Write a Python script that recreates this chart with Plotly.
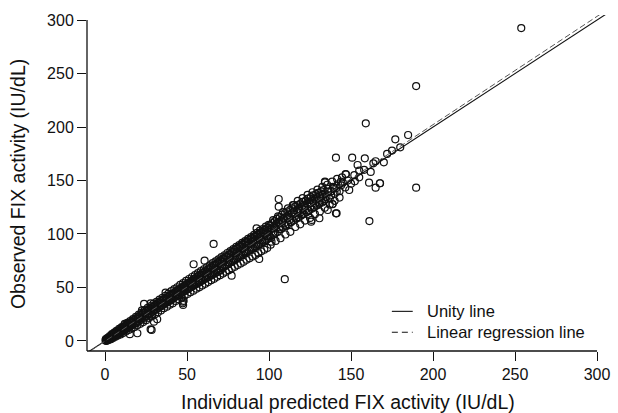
import plotly.graph_objects as go

# ---- data ----
pred_core = [
    0.3, 0.6, 0.9, 1.2, 1.5, 1.8, 2.1, 2.4, 2.7, 3.0,
    3.4, 3.7, 4.1, 4.4, 4.8, 5.1, 5.5, 5.8, 6.2, 6.5,
    6.9, 7.3, 7.6, 8.0, 8.4, 8.8, 9.2, 9.6, 10.0, 10.4,
    10.8, 11.2, 11.6, 12.0, 12.5, 12.9, 13.4, 13.8, 14.3, 14.7,
    15.2, 15.6, 16.1, 16.5, 17.0, 17.5, 18.0, 18.5, 19.0, 19.5,
    20.0, 20.4, 20.9, 21.3, 21.8, 22.2, 22.7, 23.1, 23.6, 24.0,
    24.5, 25.0, 25.4, 25.9, 26.3, 26.8, 27.2, 27.7, 28.1, 28.6,
    29.0, 29.5, 30.0, 30.4, 30.9, 31.3, 31.8, 32.2, 32.7, 33.1,
    33.6, 34.0, 34.5, 35.0, 35.4, 35.9, 36.3, 36.8, 37.2, 37.7,
    38.1, 38.6, 39.0, 39.5, 40.0,
    40.4, 40.9, 41.3, 41.8, 42.2, 42.7, 43.1, 43.6, 44.0, 44.5,
    44.9, 45.4, 45.8, 46.3, 46.7, 47.2, 47.6, 48.1, 48.5, 49.0,
    49.4, 49.9, 50.3, 50.8, 51.2, 51.7, 52.1, 52.6, 53.0, 53.5,
    53.9, 54.4, 54.8, 55.3, 55.7, 56.2, 56.6, 57.1, 57.5, 58.0,
    58.4, 58.9, 59.3, 59.8, 60.2, 60.7, 61.1, 61.6, 62.0, 62.5,
    62.9, 63.4, 63.8, 64.3, 64.7, 65.2, 65.6, 66.1, 66.5, 67.0,
    67.4, 67.9, 68.3, 68.8, 69.2, 69.7,
    70.1, 70.6, 71.0, 71.5, 71.9, 72.4, 72.8, 73.3, 73.7, 74.2,
    74.6, 75.1, 75.5, 76.0, 76.4, 76.9, 77.3, 77.8, 78.2, 78.7,
    79.1, 79.6, 80.0, 80.5, 80.9, 81.4, 81.8, 82.3, 82.7, 83.2,
    83.6, 84.1, 84.5, 85.0, 85.4, 85.9, 86.3, 86.8, 87.2, 87.7,
    88.1, 88.6, 89.0, 89.5, 89.9, 90.4, 90.8, 91.3, 91.7, 92.2,
    92.6, 93.1, 93.5, 94.0, 94.4, 94.9, 95.3, 95.8, 96.2, 96.7,
    97.1, 97.6, 98.0, 98.5, 98.9, 99.4, 99.8,
    100.3, 100.8, 101.2, 101.7, 102.1, 102.6, 103.0, 103.5, 103.9, 104.4,
    104.8, 105.3, 105.7, 106.2, 106.6, 107.1, 107.5, 108.0, 108.4, 108.9,
    109.3, 109.8, 110.2, 110.7, 111.1, 111.6, 112.0, 112.5, 112.9, 113.4,
    113.8, 114.3, 114.7, 115.2, 115.6, 116.1, 116.5, 117.0, 117.4, 117.9,
    118.3, 118.8, 119.2, 119.7, 120.1, 120.6, 121.0, 121.5, 121.9, 122.4,
    122.8, 123.3, 123.7, 124.2, 124.6, 125.1, 125.5, 126.0, 126.4, 126.9,
    127.3, 127.8, 128.2, 128.7, 129.1, 129.6, 130.0, 130.5, 130.9, 131.4,
    131.8, 132.3, 132.7, 133.2, 133.6, 134.1, 135.0, 136.0, 137.0, 138.0,
    139.0, 140.0, 141.0, 142.0, 143.0, 144.0, 145.0, 146.5, 148.0, 150.0,
    152.0, 155.0, 158.0, 162.0, 165.0, 170.0, 175.0, 180.0,
]
obs_core = [
    0.5, 0.1, 1.4, 0.6, 2.1, 1.0, 2.6, 1.5, 3.5, 2.2,
    3.9, 2.8, 5.0, 3.6, 5.9, 4.2, 6.6, 4.9, 7.4, 5.6,
    8.1, 6.0, 8.9, 6.8, 9.7, 7.5, 10.6, 8.2, 11.9, 9.0,
    12.4, 9.6, 13.2, 10.5, 14.0, 11.2, 15.3, 12.0, 16.2, 12.8,
    17.0, 13.9, 17.8, 14.6, 18.9, 15.5, 20.1, 16.4, 21.0, 17.2,
    22.4, 18.3, 21.0, 23.8, 19.6, 24.5, 21.1, 25.9, 20.8, 26.4,
    23.0, 27.8, 22.9, 28.3, 24.4, 29.6, 25.0, 30.4, 26.2, 31.5,
    27.3, 32.0, 28.1, 33.1, 29.4, 34.0, 29.9, 35.2, 31.0, 36.0,
    31.9, 37.1, 32.8, 38.2, 33.6, 38.9, 34.7, 39.8, 35.5, 40.6,
    36.4, 41.5, 37.2, 42.3, 38.1,
    43.2, 39.0, 44.0, 40.1, 45.1, 41.0, 46.0, 41.8, 47.2, 42.6,
    47.9, 43.5, 49.0, 44.6, 49.8, 45.3, 50.9, 46.2, 51.8, 47.1,
    52.6, 47.9, 53.5, 48.8, 54.6, 49.7, 55.3, 50.4, 56.4, 51.3,
    57.8, 52.0, 58.1, 52.9, 59.2, 53.6, 60.3, 54.5, 61.4, 55.2,
    62.0, 56.4, 63.1, 56.9, 64.2, 57.8, 65.0, 58.6, 66.3, 59.3,
    67.0, 60.1, 68.2, 60.9, 68.9, 61.8, 70.1, 62.5, 70.8, 63.2,
    71.9, 64.0, 72.6, 64.9, 73.5, 65.6,
    75.0, 66.0, 74.2, 68.1, 77.0, 69.0, 76.4, 70.2, 79.1, 71.0,
    78.5, 71.9, 80.8, 73.0, 81.2, 74.1, 82.9, 74.6, 83.5, 75.8,
    85.0, 76.2, 86.1, 77.4, 86.8, 78.0, 88.0, 79.3, 88.6, 80.1,
    90.2, 80.7, 90.0, 82.0, 91.5, 82.9, 92.8, 83.4, 93.0, 84.6,
    94.6, 85.2, 95.1, 86.3, 96.0, 86.8, 97.2, 88.0, 97.9, 88.5,
    98.8, 89.7, 99.6, 90.3, 100.5, 91.0, 101.3, 92.4, 102.0, 92.8,
    103.4, 93.9, 104.0, 94.5, 105.2, 95.6, 106.0,
    98.0, 108.1, 96.5, 104.9, 110.2, 99.3, 107.0, 112.0, 101.2, 109.5,
    114.1, 102.0, 111.0, 106.2, 116.0, 104.5, 112.8, 118.0, 106.0, 114.5,
    110.0, 119.8, 107.5, 116.2, 121.0, 109.2, 117.5, 113.0, 122.5, 111.0,
    119.2, 124.0, 112.5, 120.5, 116.1, 125.8, 114.3, 122.0, 127.0, 115.8,
    123.4, 119.5, 128.5, 117.2, 125.0, 130.0, 119.0, 126.5, 122.2, 131.2,
    120.4, 128.0, 133.0, 121.9, 129.5, 125.3, 134.5, 123.5, 131.0, 136.0,
    125.0, 132.4, 128.3, 137.2, 126.5, 134.0, 138.5, 128.0, 135.2, 131.0,
    139.8, 129.5, 136.6, 141.0, 131.0, 138.0, 134.5, 142.2, 133.0, 140.0,
    144.0, 137.5, 143.0, 146.5, 140.0, 145.5, 148.0, 143.5, 150.0, 147.0,
    155.0, 153.0, 160.0, 158.0, 168.0, 167.0, 178.0, 181.0,
]
pred_wide = [
    0.5, 1.0, 1.6, 2.2, 2.9, 3.5, 4.2, 4.9, 5.6, 6.3,
    7.0, 7.8, 8.6, 9.4, 10.2, 11.0, 11.9, 12.7, 13.6, 14.4,
    15.3, 16.1, 17.0, 17.9, 18.8, 19.7,
    20.6, 21.5, 22.4, 23.3, 24.2, 25.1, 26.0, 26.9, 27.8, 28.7,
    29.6, 30.5, 31.4, 32.3, 33.2, 34.1, 35.0, 35.9, 36.8, 37.7,
    38.6, 39.5,
    40.4, 41.3, 42.2, 43.1, 44.0, 44.9, 45.8, 46.7, 47.6, 48.5,
    49.4, 50.3, 51.2, 52.1, 53.0, 53.9, 54.8, 55.7, 56.6, 57.5,
    58.4, 59.3, 60.2, 61.1, 62.0, 62.9, 63.8, 64.7, 65.6, 66.5,
    67.4, 68.3, 69.2,
    70.1, 71.0, 71.9, 72.8, 73.7, 74.6, 75.5, 76.4, 77.3, 78.2,
    79.1, 80.0, 80.9, 81.8, 82.7, 83.6, 84.5, 85.4, 86.3, 87.2,
    88.1, 89.0, 89.9, 90.8, 91.7, 92.6, 93.5, 94.4, 95.3, 96.2,
    97.1, 98.0, 98.9, 99.8,
    101.0, 102.5, 104.0, 105.5, 107.0, 108.5, 110.0, 111.5, 113.0, 114.5,
    116.0, 117.5, 119.0, 120.5, 122.0, 123.5, 125.0, 126.5, 128.0, 129.5,
    131.0, 132.5, 134.0, 135.5, 137.0, 138.5, 140.0, 141.5, 143.0, 144.5,
]
obs_wide = [
    1.8, 0.2, 3.0, 0.8, 4.6, 1.6, 6.3, 2.7, 7.8, 3.9,
    9.5, 5.0, 11.4, 6.1, 13.0, 7.4, 14.9, 8.9, 16.8, 10.3,
    18.5, 11.6, 20.4, 13.0, 22.5, 14.6,
    24.6, 16.0, 26.5, 17.6, 28.8, 19.4, 30.9, 21.5, 32.6, 23.4,
    34.8, 25.0, 36.5, 26.8, 38.7, 28.5, 40.4, 30.6, 42.1, 32.0,
    44.3, 33.9,
    46.6, 35.2, 48.4, 37.4, 50.2, 38.9, 52.5, 40.6, 54.0, 42.3,
    56.1, 43.9, 57.9, 45.5, 59.8, 47.0, 61.5, 48.8, 63.4, 50.1,
    65.3, 51.9, 67.0, 53.4, 68.9, 55.0, 70.6, 56.8, 72.7, 58.1,
    74.3, 59.9, 76.2,
    61.5, 78.4, 63.0, 80.1, 64.6, 82.2, 66.0, 83.9, 67.9, 85.8,
    69.3, 87.9, 71.0, 89.6, 72.4, 91.7, 74.0, 93.3, 75.8, 95.4,
    77.2, 97.0, 79.0, 99.2, 80.4, 101.0, 82.1, 103.1, 83.8, 104.6,
    85.3, 106.8, 87.0, 108.5,
    90.0, 113.0, 93.5, 116.5, 96.0, 120.5, 99.5, 124.0, 102.0, 127.0,
    106.5, 131.0, 109.0, 133.5, 112.5, 136.5, 115.0, 139.0, 118.5, 141.5,
    121.0, 144.0, 124.5, 146.0, 127.5, 149.0, 131.0, 151.5, 134.0, 153.0,
]
pred_mid = [
    1.9, 3.2, 4.6, 6.0, 7.4, 8.9, 10.6, 12.2, 13.9, 15.5,
    17.2, 18.9, 20.6, 22.4, 24.1, 25.8, 27.5, 29.3, 31.0, 32.8,
    34.5, 36.2, 38.0, 39.7, 41.5, 43.2, 45.0, 46.7, 48.5, 50.2,
    52.0, 53.7, 55.5, 57.2, 59.0, 60.7, 62.5, 64.2, 66.0, 67.7,
    69.5, 71.2, 73.0, 74.7, 76.5, 78.2, 80.0, 81.7, 83.5, 85.2,
    87.0, 88.7, 90.5, 92.2, 94.0, 95.7, 97.5, 99.2, 101.0, 102.8,
    104.5, 106.3, 108.0, 109.8, 111.5, 113.3, 115.0, 116.8, 118.5, 120.3,
    122.0, 123.8, 125.5, 127.3, 129.0, 130.8, 132.5, 134.3, 136.0, 137.8,
    139.5, 141.3,
]
obs_mid = [
    2.4, 3.0, 4.9, 5.7, 7.8, 8.6, 11.0, 12.0, 14.4, 15.2,
    17.7, 18.4, 21.2, 21.8, 24.9, 25.3, 28.3, 28.9, 31.9, 32.2,
    35.4, 35.6, 39.1, 39.0, 42.8, 42.4, 46.5, 45.8, 50.0, 49.3,
    53.6, 52.9, 57.2, 56.3, 61.0, 59.8, 64.5, 63.2, 68.1, 66.8,
    71.7, 70.1, 75.3, 73.5, 79.0, 77.0, 82.6, 80.4, 86.2, 84.0,
    89.8, 87.4, 93.4, 90.9, 97.0, 94.3, 100.6, 97.8, 104.5, 101.0,
    108.0, 104.5, 111.5, 108.0, 115.0, 111.5, 118.5, 115.0, 122.0, 118.5,
    125.5, 122.0, 129.0, 125.5, 132.5, 129.0, 136.0, 132.5, 139.5, 136.0,
    143.0, 139.5,
]
pred_scatter = [
    253.8, 189.7, 189.7, 184.8, 177.0, 172.0, 167.6, 159.0, 140.8, 150.7,
    158.4, 154.0, 163.6, 155.0, 146.7, 161.0, 167.7, 165.0, 152.3, 148.9,
    134.1, 143.8, 138.8, 161.2, 138.6, 140.8, 105.9, 105.9, 66.2, 109.6,
    54.0, 47.4, 47.9, 77.2, 94.0, 60.7, 28.4, 19.7, 15.1, 23.8,
    27.8, 36.9, 47.6, 47.6, 31.8, 29.8, 146.9, 134.1, 135.8, 92.4,
    126.0, 141.2, 130.7, 125.7, 115.2, 106.5, 101.5, 27.8, 22.5, 12.0,
]
obs_scatter = [
    292.5, 238.3, 143.3, 192.5, 188.5, 174.8, 147.4, 203.4, 171.3, 171.3,
    170.7, 164.5, 166.0, 159.2, 156.0, 148.0, 147.4, 143.3, 149.2, 141.1,
    148.9, 148.9, 128.0, 112.1, 127.8, 119.3, 132.7, 125.5, 90.7, 57.7,
    71.7, 35.2, 37.5, 61.0, 76.6, 75.0, 10.3, 7.2, 6.3, 34.6,
    35.2, 45.1, 36.7, 33.6, 20.3, 18.0, 155.8, 148.3, 122.4, 105.3,
    113.1, 119.3, 114.7, 111.5, 127.1, 110.0, 92.8, 10.9, 28.5, 16.0,
]
reg_slope = 1.012
reg_intercept = -0.2
x_ticks = [0, 50, 100, 150, 200, 250, 300]
y_ticks = [0, 50, 100, 150, 200, 250, 300]
x_title = "Individual predicted FIX activity (IU/dL)"
y_title = "Observed FIX activity (IU/dL)"
legend_labels = ["Unity line", "Linear regression line"]

# ---- figure ----
FONT = "Liberation Sans, Arial, Helvetica, sans-serif"
INK = "#111111"
x_range = [-11.0, 307.3]
y_range = [-9.4, 304.7]

pred = pred_core + pred_wide + pred_mid + pred_scatter
obs = obs_core + obs_wide + obs_mid + obs_scatter

fig = go.Figure()
fig.add_trace(go.Scatter(
    x=pred, y=obs, mode="markers",
    marker=dict(symbol="circle-open", size=7, color=INK,
                line=dict(width=1.2, color=INK)),
    showlegend=False, hoverinfo="skip"))

line_x = [x_range[0] - 20, x_range[1] + 20]
fig.add_trace(go.Scatter(
    x=line_x, y=[v for v in line_x], mode="lines",
    line=dict(color=INK, width=1.1), showlegend=False, hoverinfo="skip"))
fig.add_trace(go.Scatter(
    x=line_x, y=[reg_slope * v + reg_intercept for v in line_x], mode="lines",
    line=dict(color="#555555", width=1.0, dash="6px,3px"), showlegend=False,
    hoverinfo="skip"))

axis_common = dict(
    showgrid=False, zeroline=False, showline=False, automargin=False,
    ticks="outside", ticklen=9, tickwidth=1, tickcolor=INK,
    tickfont=dict(family=FONT, size=16, color=INK),
)
fig.update_xaxes(range=x_range, tickvals=x_ticks, ticktext=[str(t) for t in x_ticks],
                 **axis_common)
fig.update_yaxes(range=y_range, tickvals=y_ticks, ticktext=[str(t) for t in y_ticks],
                 **axis_common)

shapes = [
    # L-shaped axis lines
    dict(type="line", xref="paper", yref="y", x0=0, x1=0, y0=y_range[0], y1=300,
         line=dict(color=INK, width=1.3)),
    dict(type="line", xref="x", yref="paper", x0=x_range[0], x1=300, y0=0, y1=0,
         line=dict(color=INK, width=1.3)),
    # legend samples
    dict(type="line", xref="paper", yref="paper", x0=0.584, x1=0.624, y0=0.118, y1=0.118,
         line=dict(color=INK, width=1.1)),
    dict(type="line", xref="paper", yref="paper", x0=0.584, x1=0.624, y0=0.056, y1=0.056,
         line=dict(color=INK, width=1.1, dash="6px,4px")),
]
annotations = [
    dict(xref="paper", yref="paper", x=0.648, y=0.118, text=legend_labels[0],
         showarrow=False, xanchor="left", yanchor="middle",
         font=dict(family=FONT, size=16.5, color=INK)),
    dict(xref="paper", yref="paper", x=0.648, y=0.056, text=legend_labels[1],
         showarrow=False, xanchor="left", yanchor="middle",
         font=dict(family=FONT, size=16.5, color=INK)),
    dict(xref="paper", yref="paper", x=0.5, y=-0.152, text=x_title,
         showarrow=False, xanchor="center", yanchor="middle",
         font=dict(family=FONT, size=19.5, color=INK)),
    dict(xref="paper", yref="paper", x=-0.132, y=0.497, text=y_title, textangle=-90,
         showarrow=False, xanchor="center", yanchor="middle",
         font=dict(family=FONT, size=19.5, color=INK)),
]

fig.update_layout(
    width=618, height=413,
    margin=dict(l=87, r=9, t=15, b=62),
    plot_bgcolor="white", paper_bgcolor="white",
    shapes=shapes, annotations=annotations,
    font=dict(family=FONT, color=INK),
    hovermode=False,
)

fig.write_html("out.html", config={"displayModeBar": False},
               post_script="document.body.style.margin='0';document.body.style.overflow='hidden';")
